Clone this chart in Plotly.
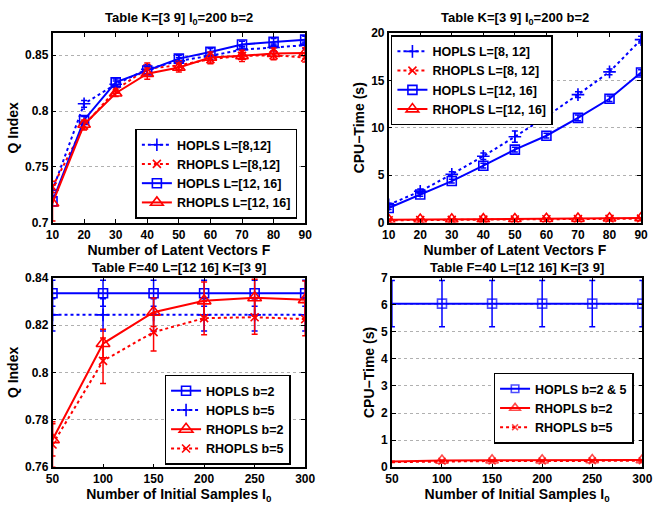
import plotly.graph_objects as go

BLUE = "#0000FF"
RED = "#FF0000"
FONT = "Liberation Sans"

# ---------------- data ----------------
F_vals = [10, 20, 30, 40, 50, 60, 70, 80, 90]
I0_vals = [50, 100, 150, 200, 250, 300]

# top-left: Q index vs F
q_hopls_8_12 = [0.729, 0.8065, 0.824, 0.8375, 0.845, 0.8495, 0.855, 0.857, 0.859]
q_hopls_8_12_err = [0.005, 0.003, 0.003, 0.004, 0.003, 0.003, 0.003, 0.003, 0.003]
q_rhopls_8_12 = [0.732, 0.787, 0.819, 0.838, 0.841, 0.8465, 0.8495, 0.850, 0.848]
q_rhopls_8_12_err = [0.005, 0.004, 0.003, 0.005, 0.004, 0.004, 0.003, 0.004, 0.004]
q_hopls_12_16 = [0.719, 0.792, 0.8257, 0.8364, 0.847, 0.853, 0.8596, 0.862, 0.864]
q_hopls_12_16_err = [0.004, 0.003, 0.003, 0.003, 0.003, 0.003, 0.003, 0.003, 0.003]
q_rhopls_12_16 = [0.7174, 0.788, 0.816, 0.8335, 0.839, 0.848, 0.8495, 0.8515, 0.852]
q_rhopls_12_16_err = [0.016, 0.004, 0.003, 0.005, 0.004, 0.005, 0.005, 0.005, 0.005]

# top-right: CPU time vs F
t_hopls_8_12 = [1.88, 3.3, 5.1, 7.0, 9.06, 11.2, 13.5, 15.9, 19.3]
t_hopls_8_12_err = [0.15, 0.25, 0.25, 0.35, 0.6, 0.3, 0.3, 0.3, 0.35]
t_rhopls_8_12 = [0.25, 0.27, 0.29, 0.31, 0.33, 0.35, 0.37, 0.39, 0.42]
t_rhopls_8_12_err = [0.02] * 9
t_hopls_12_16 = [1.54, 2.97, 4.38, 6.0, 7.7, 9.16, 11.04, 13.06, 15.83]
t_hopls_12_16_err = [0.15, 0.2, 0.2, 0.25, 0.25, 0.25, 0.3, 0.3, 0.3]
t_rhopls_12_16 = [0.30, 0.32, 0.34, 0.36, 0.38, 0.40, 0.42, 0.45, 0.48]
t_rhopls_12_16_err = [0.02] * 9

# bottom-left: Q index vs I0
qb_hopls_b2 = [0.8334, 0.8334, 0.8334, 0.8334, 0.8334, 0.8334]
qb_hopls_b2_err = [0.0055, 0.0055, 0.0055, 0.0055, 0.0055, 0.0055]
qb_hopls_b5 = [0.8243, 0.8243, 0.8243, 0.8243, 0.8243, 0.8243]
qb_hopls_b5_err = [0.0068, 0.0068, 0.0068, 0.0068, 0.0068, 0.0068]
qb_rhopls_b2 = [0.7716, 0.8122, 0.8254, 0.8302, 0.8315, 0.8307]
qb_rhopls_b2_err = [0.0068, 0.006, 0.006, 0.008, 0.0078, 0.0079]
qb_rhopls_b5 = [0.7696, 0.8049, 0.817, 0.8229, 0.8233, 0.8225]
qb_rhopls_b5_err = [0.0096, 0.0096, 0.008, 0.007, 0.0072, 0.007]

# bottom-right: CPU time vs I0
tb_hopls = [6.04, 6.04, 6.04, 6.04, 6.04, 6.04]
tb_hopls_err = [0.85, 0.85, 0.85, 0.85, 0.85, 0.85]
tb_rhopls_b2 = [0.21, 0.25, 0.26, 0.26, 0.27, 0.27]
tb_rhopls_b2_err = [0.01] * 6
tb_rhopls_b5 = [0.19, 0.22, 0.23, 0.23, 0.24, 0.24]
tb_rhopls_b5_err = [0.01] * 6

# ---------------- figure ----------------
W, H = 665, 508


def px_x(p):
    return p / W


def px_y(p):
    return 1 - p / H


fig = go.Figure()


def add(x, y, err, name, color, dash, symbol, size, xa, ya, legend, msize=None):
    fig.add_trace(go.Scatter(
        x=x, y=y, name=name, mode="lines+markers",
        line=dict(color=color, width=2, dash=dash),
        marker=dict(symbol=symbol, size=msize if msize is not None else size,
                    color=color, line=dict(color=color, width=1.6)),
        error_y=dict(type="data", array=err, visible=True, color=color,
                     thickness=1.5, width=3),
        xaxis=xa, yaxis=ya, legend=legend,
    ))


# top-left
add(F_vals, q_hopls_8_12, q_hopls_8_12_err, "HOPLS L=[8,12]", BLUE, "dot", "cross-thin", 9, "x", "y", "legend")
add(F_vals, q_rhopls_8_12, q_rhopls_8_12_err, "RHOPLS L=[8,12]", RED, "dot", "x-thin", 8, "x", "y", "legend")
add(F_vals, q_hopls_12_16, q_hopls_12_16_err, "HOPLS L=[12, 16]", BLUE, "solid", "square-open", 9, "x", "y", "legend")
add(F_vals, q_rhopls_12_16, q_rhopls_12_16_err, "RHOPLS L=[12, 16]", RED, "solid", "triangle-up-open", 11, "x", "y", "legend")

# top-right
add(F_vals, t_hopls_8_12, t_hopls_8_12_err, "HOPLS L=[8, 12]", BLUE, "dot", "cross-thin", 9, "x2", "y2", "legend2")
add(F_vals, t_rhopls_8_12, t_rhopls_8_12_err, "RHOPLS L=[8, 12]", RED, "dot", "x-thin", 8, "x2", "y2", "legend2")
add(F_vals, t_hopls_12_16, t_hopls_12_16_err, "HOPLS L=[12, 16]", BLUE, "solid", "square-open", 9, "x2", "y2", "legend2")
add(F_vals, t_rhopls_12_16, t_rhopls_12_16_err, "RHOPLS L=[12, 16]", RED, "solid", "triangle-up-open", 11, "x2", "y2", "legend2")

# bottom-left
add(I0_vals, qb_hopls_b2, qb_hopls_b2_err, "HOPLS b=2", BLUE, "solid", "square-open", 9, "x3", "y3", "legend3")
add(I0_vals, qb_hopls_b5, qb_hopls_b5_err, "HOPLS b=5", BLUE, "dot", "cross-thin", 9, "x3", "y3", "legend3")
add(I0_vals, qb_rhopls_b2, qb_rhopls_b2_err, "RHOPLS b=2", RED, "solid", "triangle-up-open", 12, "x3", "y3", "legend3")
add(I0_vals, qb_rhopls_b5, qb_rhopls_b5_err, "RHOPLS b=5", RED, "dot", "x-thin", 8, "x3", "y3", "legend3")

# bottom-right
add(I0_vals, tb_hopls, tb_hopls_err, "HOPLS b=2 & 5", BLUE, "solid", "square-open", 9, "x4", "y4", "legend4",
    msize=[0, 9, 9, 9, 9, 9])
add(I0_vals, tb_rhopls_b2, tb_rhopls_b2_err, "RHOPLS b=2", RED, "solid", "triangle-up-open", 11, "x4", "y4", "legend4",
    msize=[0, 11, 11, 11, 11, 11])
add(I0_vals, tb_rhopls_b5, tb_rhopls_b5_err, "RHOPLS b=5", RED, "dot", "x-thin", 7, "x4", "y4", "legend4",
    msize=[0, 7, 7, 7, 7, 7])

tickfont = dict(family=FONT, size=12, color="black", weight="bold")
titlefont = dict(family=FONT, size=14, color="black", weight="bold")


def xaxis(dom, rng, tickvals, anchor, title):
    return dict(domain=dom, range=rng, tickvals=tickvals, anchor=anchor,
                showline=True, linecolor="black", linewidth=1.5, mirror="allticks",
                ticks="inside", ticklen=4, tickcolor="black", tickwidth=1,
                showgrid=False, zeroline=False, tickfont=tickfont,
                title=dict(text=title, font=titlefont, standoff=0))


def yaxis(dom, rng, tickvals, ticktext, anchor, title, standoff):
    return dict(domain=dom, range=rng, tickvals=tickvals, ticktext=ticktext, anchor=anchor,
                showline=True, linecolor="black", linewidth=1.5, mirror="allticks",
                ticks="inside", ticklen=4, tickcolor="black", tickwidth=1,
                showgrid=True, gridcolor="#b0b0b0", griddash="dot", gridwidth=1,
                zeroline=False, tickfont=tickfont,
                title=dict(text=title, font=titlefont, standoff=standoff))


top_dom = [px_y(221.7), px_y(26.7)]
bot_dom = [px_y(473.3), px_y(278.3)]

legend_common = dict(bgcolor="white", bordercolor="black", borderwidth=1.5,
                     font=dict(family=FONT, size=12.5, color="black", weight="bold"),
                     yanchor="top", tracegroupgap=0, itemwidth=30,
                     xref="paper", yref="paper")

fig.update_layout(
    width=W, height=H, margin=dict(l=0, r=0, t=0, b=0),
    plot_bgcolor="white", paper_bgcolor="white",
    xaxis=xaxis([px_x(46.7), px_x(306)], [10, 90], F_vals, "y", "Number of Latent Vectors F"),
    yaxis=yaxis(top_dom, [0.7, 0.87], [0.7, 0.75, 0.8, 0.85], ["0.7", "0.75", "0.8", "0.85"], "x", "Q Index", 3),
    xaxis2=xaxis([px_x(391.7), px_x(650.7)], [10, 90], F_vals, "y2", "Number of Latent Vectors F"),
    yaxis2=yaxis(top_dom, [0, 20], [0, 5, 10, 15, 20], ["0", "5", "10", "15", "20"], "x2", "CPU\u2212Time (s)", 3),
    xaxis3=xaxis([px_x(46.7), px_x(306)], [50, 300], I0_vals, "y3", "Number of Initial Samples I<sub>0</sub>"),
    yaxis3=yaxis(bot_dom, [0.76, 0.84], [0.76, 0.78, 0.8, 0.82, 0.84], ["0.76", "0.78", "0.8", "0.82", "0.84"], "x3", "Q Index", 3),
    xaxis4=xaxis([px_x(395), px_x(652)], [50, 300], I0_vals, "y4", "Number of Initial Samples I<sub>0</sub>"),
    yaxis4=yaxis(bot_dom, [0, 7], [0, 1, 2, 3, 4, 5, 6, 7], [str(v) for v in range(8)], "x4", "CPU\u2212Time (s)", 3),
    legend=dict(x=px_x(298), y=px_y(125), xanchor="right", **legend_common),
    legend2=dict(x=px_x(394), y=px_y(29), xanchor="left", **legend_common),
    legend3=dict(x=px_x(291), y=px_y(378), xanchor="right", **legend_common),
    legend4=dict(x=px_x(643), y=px_y(376), xanchor="right", **legend_common),
)

title_font = dict(family=FONT, size=13, color="black", weight="bold")
titles = [
    ((46.7 + 306) / 2, 12, "Table K=[3 9] I<sub>0</sub>=200 b=2"),
    ((391.7 + 650.7) / 2, 12, "Table K=[3 9] I<sub>0</sub>=200 b=2"),
    ((46.7 + 306) / 2, 268, "Table F=40 L=[12 16] K=[3 9]"),
    ((395 + 652) / 2, 268, "Table F=40 L=[12 16] K=[3 9]"),
]
for cx, cy, txt in titles:
    fig.add_annotation(x=px_x(cx), y=px_y(cy), xref="paper", yref="paper",
                       text=txt, showarrow=False, font=title_font,
                       xanchor="center", yanchor="middle")

fig.write_html("out.html", config={"displayModeBar": False},
               post_script="document.body.style.margin='0px';document.body.style.overflow='hidden';")
